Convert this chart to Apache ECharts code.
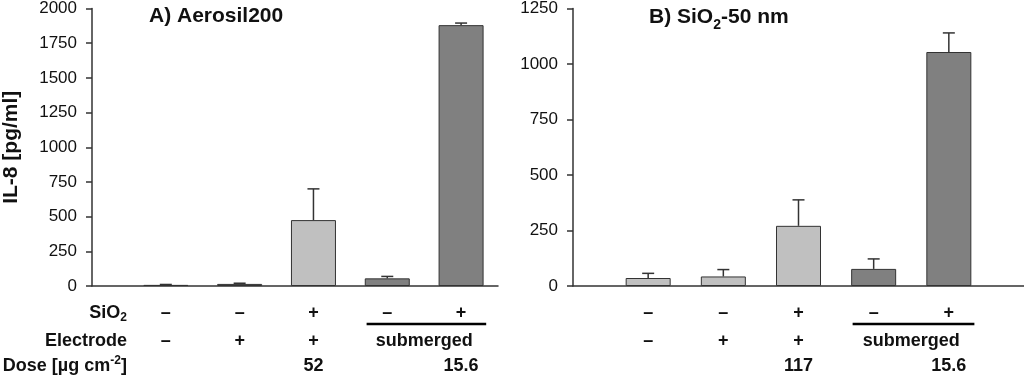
<!DOCTYPE html>
<html>
<head>
<meta charset="utf-8">
<script src="https://cdn.jsdelivr.net/npm/echarts@6/dist/echarts.min.js"></script>
<style>
html,body{margin:0;padding:0;background:#fff;}
#chart{width:1024px;height:376px;}
</style>
</head>
<body>
<div id="chart"></div>
<script>
// bar positions on the x axis (1..5)
const positions = [1, 2, 3, 4, 5];

// A) Aerosil200
const aerosilMean = [8, 15, 475, 55, 1880];
const aerosilSd = [3, 5, 225, 14, 15];
const aerosilShade = ['dark', 'dark', 'light', 'dark', 'dark'];
const aerosilTicks = [0, 250, 500, 750, 1000, 1250, 1500, 1750, 2000];

// B) SiO2-50 nm
const silicaMean = [36, 43, 271, 77, 1054];
const silicaSd = [21, 31, 117, 45, 86];
const silicaShade = ['light', 'light', 'light', 'dark', 'dark'];
const silicaTicks = [0, 250, 500, 750, 1000, 1250];

// table under the bars
const sio2Row = ['–', '–', '+', '–', '+'];
const electrodeRow = ['–', '+', '+', '', ''];
const doseRowA = ['', '', '52', '', '15.6'];
const doseRowB = ['', '', '117', '', '15.6'];

const shades = { light: '#c0c0c0', dark: '#808080' };
const ink = '#111';
const axisColor = '#333';
const fam = '"Liberation Sans", Arial, sans-serif';

const chart = echarts.init(document.getElementById('chart'));

function barSeries(idx, mean, shade) {
	return {
		type: 'bar',
		xAxisIndex: idx,
		yAxisIndex: idx,
		barWidth: 45,
		itemStyle: { borderColor: axisColor, borderWidth: 1 },
		data: positions.map((x, i) => ({
			value: [x, mean[i]],
			itemStyle: { color: shades[shade[i]] }
		})),
		z: 2
	};
}

function errorSeries(idx, mean, sd) {
	return {
		type: 'custom',
		xAxisIndex: idx,
		yAxisIndex: idx,
		z: 3,
		encode: { x: 0, y: 1 },
		data: positions.map((x, i) => [x, mean[i], sd[i]]),
		renderItem(params, api) {
			const x = api.value(0), m = api.value(1), e = api.value(2);
			const a = api.coord([x, m]);
			const b = api.coord([x, m + e]);
			const st = { stroke: axisColor, lineWidth: 1.5 };
			return {
				type: 'group',
				children: [
					{ type: 'line', shape: { x1: a[0], y1: a[1], x2: b[0], y2: b[1] }, style: st },
					{ type: 'line', shape: { x1: b[0] - 6, y1: b[1], x2: b[0] + 6, y2: b[1] }, style: st }
				]
			};
		}
	};
}

// cells of the little table: [x, row, text, align]
function tableCells(doseRow, withLabels) {
	const cells = [];
	positions.forEach((x, i) => {
		if (sio2Row[i]) cells.push([x, 0, sio2Row[i]]);
		if (electrodeRow[i]) cells.push([x, 1, electrodeRow[i]]);
		if (doseRow[i]) cells.push([x, 2, doseRow[i]]);
	});
	cells.push([4.5, 1, 'submerged']);
	if (withLabels) {
		cells.push([0.5, 0, '{m|SiO}{sub|2}', 'right']);
		cells.push([0.5, 1, '{m|Electrode}', 'right']);
		cells.push([0.5, 2, '{m|Dose [µg cm}{sup|-2}{m|]}', 'right']);
	}
	return cells;
}

const rowOffset = [27, 55, 80];

function tableSeries(idx, doseRow, withLabels) {
	const cells = tableCells(doseRow, withLabels);
	return {
		type: 'custom',
		xAxisIndex: idx,
		yAxisIndex: idx,
		clip: false,
		silent: true,
		data: cells.map(c => [c[0], 0, c[1]]),
		renderItem(params, api) {
			const c = cells[params.dataIndex];
			const p = api.coord([c[0], 0]);
			const children = [{
				type: 'text',
				x: p[0] - (c[3] === 'right' ? 2 : 0),
				y: p[1] + rowOffset[c[1]],
				style: {
					text: c[2],
					fill: ink,
					fontSize: 18,
					fontWeight: 'bold',
					fontFamily: fam,
					align: c[3] || 'center',
					verticalAlign: 'middle',
					rich: {
						m: { fontSize: 18, fontWeight: 'bold', fontFamily: fam, fill: ink, lineHeight: 22 },
						sub: { fontSize: 12, fontWeight: 'bold', fontFamily: fam, fill: ink, lineHeight: 12, verticalAlign: 'bottom' },
						sup: { fontSize: 12, fontWeight: 'bold', fontFamily: fam, fill: ink, lineHeight: 12, verticalAlign: 'top' }
					}
				}
			}];
			if (c[2] === 'submerged') {
				const l = api.coord([3.72, 0]);
				const r = api.coord([5.34, 0]);
				children.push({
					type: 'line',
					shape: { x1: l[0], y1: p[1] + 38, x2: r[0], y2: p[1] + 38 },
					style: { stroke: '#000', lineWidth: 2.5 }
				});
			}
			return { type: 'group', children };
		}
	};
}

function yAxis(idx, ticks, name) {
	return {
		type: 'value',
		gridIndex: idx,
		min: ticks[0],
		max: ticks[ticks.length - 1],
		interval: ticks[1] - ticks[0],
		name: name,
		nameLocation: 'middle',
		nameGap: 70,
		nameTextStyle: { fontSize: 21, fontWeight: 'bold', color: ink, fontFamily: fam },
		axisLine: { show: true, lineStyle: { color: axisColor, width: 1.5 } },
		axisTick: { show: true, length: 6, lineStyle: { color: axisColor, width: 1.5 } },
		axisLabel: { fontSize: 17, color: ink, fontFamily: fam, margin: 15, formatter: v => String(v) },
		splitLine: { show: false }
	};
}

function xAxis(idx, max) {
	return {
		type: 'value',
		gridIndex: idx,
		min: 0,
		max: max,
		axisLine: { show: true, onZero: false, lineStyle: { color: axisColor, width: 1.5 } },
		axisTick: { show: false },
		axisLabel: { show: false },
		splitLine: { show: false }
	};
}

const titleRich = {
	b: { fontSize: 21, fontWeight: 'bold', fontFamily: fam, color: ink, lineHeight: 30 },
	s: { fontSize: 14, fontWeight: 'bold', fontFamily: fam, color: ink, lineHeight: 14, verticalAlign: 'bottom' }
};

chart.setOption({
	animation: false,
	textStyle: { fontFamily: fam },
	title: [
		{ text: '{b|A) Aerosil200}', left: 149, top: 1, padding: 0, textStyle: { rich: titleRich } },
		{ text: '{b|B) SiO}{s|2}{b|-50 nm}', left: 649, top: 2, padding: 0, textStyle: { rich: titleRich } }
	],
	grid: [
		{ left: 88, top: 6, width: 410, bottom: 90 },
		{ left: 573, top: 6, right: 0, bottom: 90 }
	],
	xAxis: [xAxis(0, 5.5), xAxis(1, 6)],
	yAxis: [yAxis(0, aerosilTicks, 'IL-8 [pg/ml]'), yAxis(1, silicaTicks, '')],
	series: [
		barSeries(0, aerosilMean, aerosilShade),
		errorSeries(0, aerosilMean, aerosilSd),
		tableSeries(0, doseRowA, true),
		barSeries(1, silicaMean, silicaShade),
		errorSeries(1, silicaMean, silicaSd),
		tableSeries(1, doseRowB, false)
	]
});
window.addEventListener('resize', () => chart.resize());
</script>
</body>
</html>
